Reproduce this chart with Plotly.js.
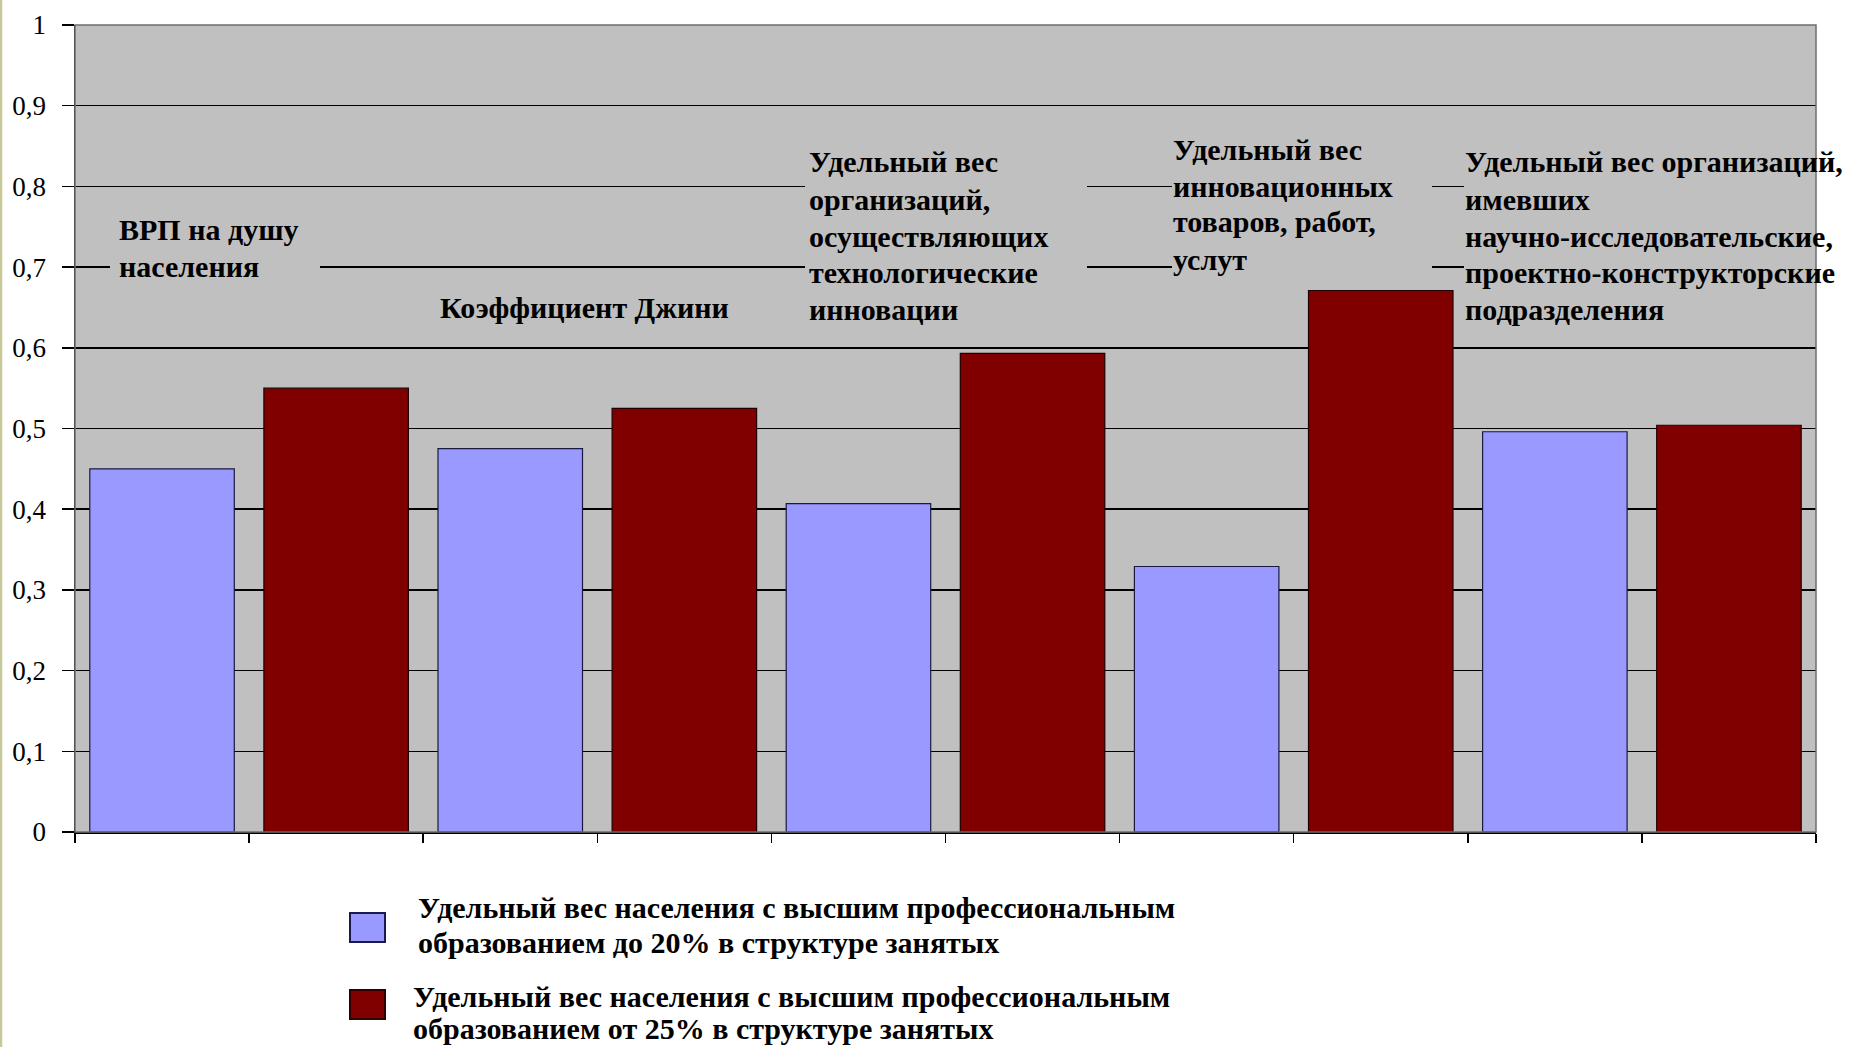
<!DOCTYPE html>
<html>
<head>
<meta charset="utf-8">
<script src="https://cdn.plot.ly/plotly-3.0.1.min.js"></script>
<style>html,body{margin:0;padding:0;background:#fff;}</style>
</head>
<body>
<div id="chart" style="width:1856px;height:1047px;"></div>
<script>
// ---- data ----
const categories = [
  ['ВРП на душу', 'населения'],
  ['Коэффициент Джини'],
  ['Удельный вес', 'организаций,', 'осуществляющих', 'технологические', 'инновации'],
  ['Удельный вес', 'инновационных', 'товаров, работ,', 'услут'],
  ['Удельный вес организаций,', 'имевших', 'научно-исследовательские,', 'проектно-конструкторские', 'подразделения']
];
const seriesNames = [
  ['Удельный вес населения с высшим профессиональным', 'образованием до 20% в структуре занятых'],
  ['Удельный вес населения с высшим профессиональным', 'образованием от 25% в структуре занятых']
];
const lowShare  = [0.45, 0.475, 0.407, 0.329, 0.496];
const highShare = [0.55, 0.525, 0.593, 0.671, 0.504];
const yTickVals = [0, 0.1, 0.2, 0.3, 0.4, 0.5, 0.6, 0.7, 0.8, 0.9, 1];
const yTickText = ['0', '0,1', '0,2', '0,3', '0,4', '0,5', '0,6', '0,7', '0,8', '0,9', '1'];

// ---- layout / style ----
const W = 1856, H = 1047;
const M = {l: 75, r: 40, t: 25, b: 215};
const PW = W - M.l - M.r, PH = H - M.t - M.b;
const colors = ['#9999ff', '#800000'];
const SERIF = '"Liberation Serif", "Times New Roman", "DejaVu Serif", serif';
const labelFont = {family: SERIF, size: 30, color: '#000000', weight: 'bold'};

// label text placement (pixel coords of line centers) and masks hiding gridlines behind labels
const labelPos = [
  {x: 118, y: [230, 266]},
  {x: 439, y: [308]},
  {x: 808, y: [162, 199, 236, 272, 309]},
  {x: 1172, y: [149, 186, 222, 259]},
  {x: 1464, y: [162, 199, 236, 272, 309]}
];
const labelMasks = [
  {x0: 110, x1: 320, y0: 0.68, y1: 0.74},
  {x0: 805, x1: 1087, y0: 0.68, y1: 0.84},
  {x0: 1172, x1: 1432, y0: 0.68, y1: 0.84},
  {x0: 1464, x1: 1816, y0: 0.68, y1: 0.84}
];
const legendPos = [
  {box: [350, 913, 385, 942], x: 417, y: [907, 943]},
  {box: [350, 990, 385, 1019], x: 412, y: [996, 1028]}
];

const px2paperX = px => (px - M.l) / PW;
const px2paperY = py => (M.t + PH - py) / PH;

const nGroups = categories.length;
const xLow = lowShare.map((v, i) => 2 * i + 0.5);
const xHigh = highShare.map((v, i) => 2 * i + 1.5);

const traces = [
  {type: 'bar', x: xLow, y: lowShare, name: seriesNames[0].join(' '), width: 0.83,
   marker: {color: colors[0], line: {color: '#1a1a40', width: 1.2}}, showlegend: false, hoverinfo: 'y'},
  {type: 'bar', x: xHigh, y: highShare, name: seriesNames[1].join(' '), width: 0.83,
   marker: {color: colors[1], line: {color: '#200000', width: 1.2}}, showlegend: false, hoverinfo: 'y'}
];

const annotations = [];
categories.forEach((lines, i) => {
  lines.forEach((t, j) => {
    annotations.push({xref: 'paper', yref: 'paper', x: px2paperX(labelPos[i].x), y: px2paperY(labelPos[i].y[j]),
      xanchor: 'left', yanchor: 'middle', text: t, showarrow: false, font: labelFont, align: 'left', borderpad: 0});
  });
});
seriesNames.forEach((lines, i) => {
  lines.forEach((t, j) => {
    annotations.push({xref: 'paper', yref: 'paper', x: px2paperX(legendPos[i].x), y: px2paperY(legendPos[i].y[j]),
      xanchor: 'left', yanchor: 'middle', text: t, showarrow: false, font: labelFont, align: 'left', borderpad: 0});
  });
});

const dataX = px => (px - M.l) / PW * (2 * nGroups);
const shapes = [];
labelMasks.forEach(m => {
  shapes.push({type: 'rect', xref: 'x', yref: 'y', x0: dataX(m.x0), x1: dataX(m.x1), y0: m.y0, y1: m.y1,
    fillcolor: '#c0c0c0', line: {width: 0}, layer: 'above'});
});
// plot area border (top/right gray)
shapes.push({type: 'rect', xref: 'paper', yref: 'paper', x0: 0, x1: 1, y0: 0, y1: 1,
  line: {color: '#6e6e6e', width: 1.5}, fillcolor: 'rgba(0,0,0,0)', layer: 'above'});
// legend boxes
legendPos.forEach((p, i) => {
  shapes.push({type: 'rect', xref: 'paper', yref: 'paper',
    x0: px2paperX(p.box[0]), x1: px2paperX(p.box[2]), y0: px2paperY(p.box[3]), y1: px2paperY(p.box[1]),
    fillcolor: colors[i], line: {color: i === 0 ? '#1a1a50' : '#300000', width: 2}});
});
// thin olive edge at the far left
shapes.push({type: 'line', xref: 'paper', yref: 'paper', x0: px2paperX(1), x1: px2paperX(1),
  y0: px2paperY(H), y1: px2paperY(0), line: {color: '#c8c898', width: 2.5}});

const layout = {
  width: W, height: H,
  margin: {l: M.l, r: M.r, t: M.t, b: M.b, pad: 0},
  paper_bgcolor: '#ffffff', plot_bgcolor: '#c0c0c0',
  showlegend: false,
  barmode: 'overlay',
  font: {family: SERIF},
  xaxis: {range: [0, 2 * nGroups], tickmode: 'array', tickvals: Array.from({length: 2 * nGroups + 1}, (_, k) => k),
    showticklabels: false, ticks: 'outside', ticklen: 9, tickwidth: 1.5, tickcolor: '#000',
    showgrid: false, zeroline: false, showline: true, linecolor: '#000', linewidth: 1.5, fixedrange: true},
  yaxis: {range: [0, 1], tickmode: 'array', tickvals: yTickVals, ticktext: yTickText,
    ticks: 'outside', ticklen: 12, tickwidth: 1.5, tickcolor: '#000', ticklabelstandoff: 10,
    tickfont: {family: SERIF, size: 27, color: '#000'},
    showgrid: true, gridcolor: '#000', gridwidth: 1.5, zeroline: false,
    showline: true, linecolor: '#000', linewidth: 1.5, fixedrange: true},
  annotations: annotations,
  shapes: shapes
};

Plotly.newPlot('chart', traces, layout, {displayModeBar: false, staticPlot: true});
</script>
</body>
</html>
